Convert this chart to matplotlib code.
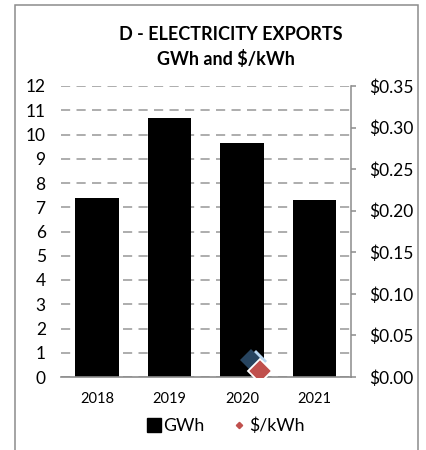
import numpy as np
import matplotlib
matplotlib.use("Agg")
import matplotlib.pyplot as plt
import matplotlib.transforms as mtransforms
from matplotlib.lines import Line2D
from matplotlib.patches import Rectangle
from matplotlib.ticker import FuncFormatter

# ---- data ----
years = ["2018", "2019", "2020", "2021"]
gwh = [7.4, 10.7, 9.65, 7.3]
price_per_kwh = [np.nan, np.nan, 0.007, np.nan]
gwh_ticks = list(range(0, 13))
price_ticks = [0.00, 0.05, 0.10, 0.15, 0.20, 0.25, 0.30, 0.35]

# ---- style ----
FONT = ["Lato", "DejaVu Sans"]
plt.rcParams["font.family"] = FONT
GRID = "#A0A0A0"
AXIS = "#8C8C8C"
RED = "#C0504D"
NAVY = "#27445F"
LIGHT_BLUE = "#B7D5EF"
price_offset = 0.25  # secondary series sits to the right of the category centre

fig = plt.figure(figsize=(4.27, 4.50), dpi=100)

# outer chart frame
fig.patches.append(Rectangle((15 / 427, -0.05), (418 - 15) / 427, 1.05 - 5 / 450,
                             transform=fig.transFigure, fill=False,
                             edgecolor=AXIS, linewidth=1.1, zorder=0))

ax = fig.add_axes([61 / 427, 1 - 377 / 450, 290 / 427, 291 / 450])
x = np.arange(len(years))

ax.bar(x, gwh, width=0.6, color="black", zorder=2)
ax.set_xlim(-0.5, len(years) - 0.5)
ax.set_ylim(0, 12)
ax.set_yticks(gwh_ticks)
ax.set_xticks(x)
ax.set_xticklabels(years)
ax.set_axisbelow(True)
ax.yaxis.grid(True, color=GRID, linewidth=1.2, linestyle=(0, (5.5, 3.8)))
ax.xaxis.grid(False)
for side in ("left", "right", "top"):
    ax.spines[side].set_visible(False)
ax.spines["bottom"].set_color(AXIS)
ax.spines["bottom"].set_linewidth(1.2)
ax.tick_params(axis="y", length=0, pad=11, labelsize=12.5, colors="black")
ax.tick_params(axis="x", length=0, pad=11, labelsize=10.5, colors="black")

ax2 = ax.twinx()
ax2.set_ylim(0, 0.35)
ax2.set_yticks(price_ticks)
ax2.yaxis.set_major_formatter(FuncFormatter(lambda v, _: f"${v:.2f}"))
for side in ("left", "top", "bottom"):
    ax2.spines[side].set_visible(False)
ax2.spines["right"].set_color(AXIS)
ax2.spines["right"].set_linewidth(1.1)
ax2.tick_params(axis="y", direction="out", length=3.8, width=1.1, color=AXIS,
                pad=9, labelsize=12.5, labelcolor="black")

xp = x + price_offset
# bevel-like backing of the price marker
glow = mtransforms.ScaledTranslation(-3.5 / 72, 7.5 / 72, fig.dpi_scale_trans)
back = mtransforms.ScaledTranslation(-6.5 / 72, 8.3 / 72, fig.dpi_scale_trans)
ax2.plot(xp, price_per_kwh, linestyle="none", marker="D", markersize=11,
         color=LIGHT_BLUE, markeredgewidth=0, transform=ax2.transData + glow, zorder=3)
ax2.plot(xp, price_per_kwh, linestyle="none", marker="D", markersize=11.5,
         color=NAVY, markeredgewidth=0, transform=ax2.transData + back, zorder=4)
ax2.plot(xp, price_per_kwh, linestyle="none", marker="D", markersize=11.8,
         markerfacecolor=RED, markeredgecolor="white", markeredgewidth=1.3, zorder=5)

# titles
fig.text(0.540, 1 - 34 / 450, "D - ELECTRICITY EXPORTS", ha="center", va="center",
         fontsize=13, fontweight="bold")
fig.text(0.530, 1 - 59 / 450, "GWh and $/kWh", ha="center", va="center",
         fontsize=13, fontweight="bold")

handles = [
    Line2D([], [], linestyle="none", marker="s", markersize=9.5, color="black"),
    Line2D([], [], linestyle="none", marker="D", markersize=3.2, color=RED),
]
fig.legend(handles, ["GWh", "$/kWh"], loc="center", bbox_to_anchor=(0.527, 1 - 426 / 450),
           ncol=2, frameon=False, fontsize=12.8, handlelength=0.9, handletextpad=0.1,
           columnspacing=1.5, borderpad=0)

fig.savefig("out.png", dpi=100)
